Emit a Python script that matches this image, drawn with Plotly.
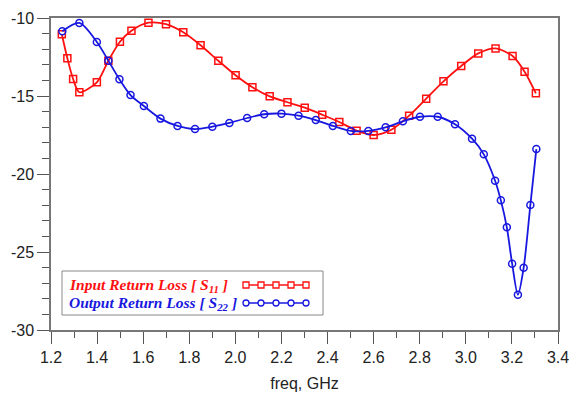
import plotly.graph_objects as go

# S11 (Input Return Loss) marker points
s11_freq = [1.247, 1.271, 1.296, 1.323, 1.399, 1.449, 1.499, 1.549, 1.623, 1.699,
            1.774, 1.849, 1.926, 2.001, 2.074, 2.149, 2.226, 2.301, 2.377, 2.451,
            2.526, 2.600, 2.677, 2.754, 2.828, 2.903, 2.980, 3.054, 3.129, 3.203,
            3.255, 3.304]
s11_db = [-11.04, -12.58, -13.91, -14.76, -14.12, -12.74, -11.52, -10.81, -10.30, -10.40,
          -10.92, -11.75, -12.74, -13.67, -14.44, -15.02, -15.40, -15.75, -16.20, -16.67,
          -17.22, -17.50, -17.16, -16.26, -15.17, -14.06, -13.08, -12.27, -11.95, -12.44,
          -13.44, -14.83]

# S22 (Output Return Loss) marker points
s22_freq = [1.249, 1.323, 1.399, 1.449, 1.497, 1.545, 1.603, 1.675, 1.749, 1.825,
            1.900, 1.974, 2.051, 2.125, 2.200, 2.274, 2.349, 2.423, 2.501, 2.577,
            2.652, 2.727, 2.801, 2.878, 2.953, 3.027, 3.078, 3.127, 3.152, 3.178,
            3.201, 3.226, 3.251, 3.280, 3.306]
s22_db = [-10.85, -10.32, -11.54, -12.74, -13.93, -14.94, -15.64, -16.45, -16.92, -17.12,
          -16.97, -16.73, -16.41, -16.17, -16.13, -16.26, -16.54, -16.92, -17.24, -17.24,
          -17.01, -16.62, -16.33, -16.33, -16.81, -17.74, -18.74, -20.43, -21.69, -23.42,
          -25.75, -27.74, -26.01, -21.99, -18.40]

x_ticks = [1.2, 1.4, 1.6, 1.8, 2.0, 2.2, 2.4, 2.6, 2.8, 3.0, 3.2, 3.4]
x_labels = ["1.2", "1.4", "1.6", "1.8", "2.0", "2.2", "2.4", "2.6", "2.8", "3.0", "3.2", "3.4"]
y_ticks = [-30, -25, -20, -15, -10]
y_labels = ["-30", "-25", "-20", "-15", "-10"]

RED = "#ff1010"
BLUE = "#1818e0"

fig = go.Figure()
fig.add_trace(go.Scatter(
    x=s11_freq, y=s11_db, mode="lines+markers", name="Input Return Loss [S11]",
    line=dict(color=RED, width=1.8, shape="spline", smoothing=0.8),
    marker=dict(symbol="square-open", size=7, color=RED, line=dict(width=1.5)),
    showlegend=False))
fig.add_trace(go.Scatter(
    x=s22_freq, y=s22_db, mode="lines+markers", name="Output Return Loss [S22]",
    line=dict(color=BLUE, width=1.8, shape="spline", smoothing=0.8),
    marker=dict(symbol="circle-open", size=7, color=BLUE, line=dict(width=1.5)),
    showlegend=False))

axis_font = dict(family="Liberation Sans, Arial, sans-serif", size=16, color="#222")

fig.update_xaxes(
    range=[1.2, 3.4], tickvals=x_ticks, ticktext=x_labels,
    ticks="outside", ticklen=12, tickwidth=1, tickcolor="#555",
    minor=dict(dtick=0.1, tick0=1.2, ticks="outside", ticklen=6, tickcolor="#555"),
    showline=True, linecolor="#777", linewidth=1.5, mirror=True,
    showgrid=False, zeroline=False, tickfont=axis_font, automargin=False,
    title=dict(text="freq, GHz", font=axis_font, standoff=13))
fig.update_yaxes(
    range=[-30, -10], tickvals=y_ticks, ticktext=y_labels,
    ticks="outside", ticklen=12, tickwidth=1, tickcolor="#555",
    minor=dict(dtick=1, tick0=-30, ticks="outside", ticklen=7, tickcolor="#555"),
    showline=True, linecolor="#777", linewidth=1.5, mirror=True,
    showgrid=False, zeroline=False, tickfont=axis_font, automargin=False)

# custom legend (text on left, sample line with markers on right)
def px2paper(px, py):
    return (px - 51) / 507, (330 - py) / 312

x0, y0 = px2paper(62, 271)
x1, y1 = px2paper(323, 315)
fig.add_shape(type="rect", xref="paper", yref="paper", x0=x0, y0=y1, x1=x1, y1=y0,
              line=dict(color="#888", width=1), fillcolor="white", layer="above")

leg_font = "Liberation Serif, Times New Roman, serif"
for label, color, py, sym in [
        ("<b><i>Input Return Loss [ S<sub>11</sub> ]</i></b>", RED, 285, "square"),
        ("<b><i>Output Return Loss [ S<sub>22</sub> ]</i></b>", BLUE, 303, "circle")]:
    tx, ty = px2paper(67, py)
    fig.add_annotation(xref="paper", yref="paper", x=tx, y=ty, text=label,
                       showarrow=False, xanchor="left", yanchor="middle",
                       font=dict(family=leg_font, size=15.5, color=color))
    lx0, ly = px2paper(246, py)
    lx1, _ = px2paper(306, py)
    fig.add_shape(type="line", xref="paper", yref="paper", x0=lx0, y0=ly, x1=lx1, y1=ly,
                  line=dict(color=color, width=1.6), layer="above")
    for mx in [246, 261, 276, 291, 306]:
        cx, cy = px2paper(mx, py)
        dx, dy = 3 / 507, 3 / 312
        fig.add_shape(type="rect" if sym == "square" else "circle",
                      xref="paper", yref="paper",
                      x0=cx - dx, x1=cx + dx, y0=cy - dy, y1=cy + dy,
                      line=dict(color=color, width=1.3), fillcolor="white", layer="above")

fig.update_layout(
    width=571, height=400,
    margin=dict(l=51, r=13, t=18, b=70),
    plot_bgcolor="white", paper_bgcolor="white",
    showlegend=False)

fig.write_html("out.html", config={"displayModeBar": False},
               post_script="document.body.style.margin='0';")
